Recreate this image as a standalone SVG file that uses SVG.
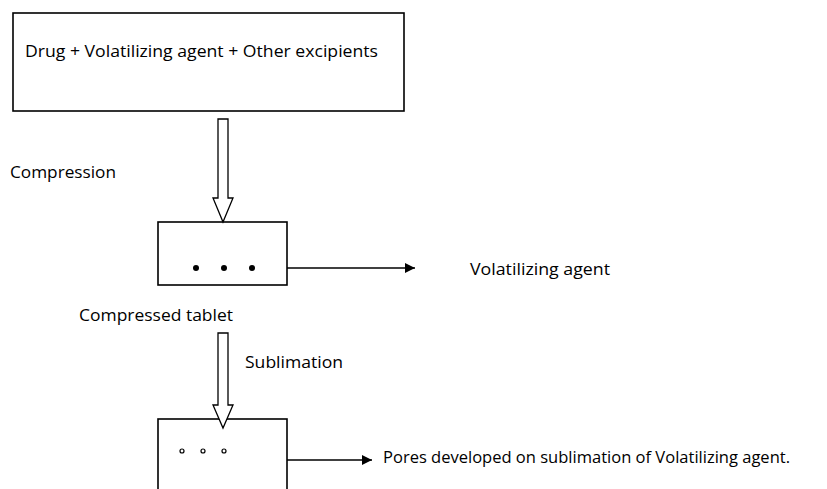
<svg xmlns="http://www.w3.org/2000/svg" width="827" height="489" viewBox="0 0 827 489">
<defs>
<style>
.box{fill:#fff;stroke:#000;stroke-width:1.6}
.hollow{fill:#fff;stroke:#000;stroke-width:1.3;stroke-linejoin:miter}
.line{stroke:#000;stroke-width:1.6;fill:none}
.t{font-family:"Open Sans","Liberation Sans",sans-serif;font-size:16px;fill:#000}
</style>
<marker id="ah" viewBox="0 0 10 10" refX="10" refY="5" markerWidth="11" markerHeight="10" markerUnits="userSpaceOnUse" orient="auto">
<path d="M0,0 L10,5 L0,10 z" fill="#000"/>
</marker>
</defs>
<rect width="827" height="489" fill="#fff"/>
<g id="mixture">
<rect class="box" x="13" y="13" width="391" height="98"/>
<text class="t" x="25" y="57" textLength="353" lengthAdjust="spacingAndGlyphs">Drug + Volatilizing agent + Other excipients</text>
</g>
<g id="compressed-tablet">
<rect class="box" x="158" y="222" width="129" height="63"/>
<circle cx="196" cy="268" r="3"/>
<circle cx="224" cy="268" r="3"/>
<circle cx="252" cy="268" r="3"/>
<text class="t" x="79" y="321" textLength="154" lengthAdjust="spacingAndGlyphs">Compressed tablet</text>
</g>
<g id="porous-tablet">
<rect class="box" x="158" y="419" width="129" height="80"/>
<circle cx="182" cy="451" r="2" fill="none" stroke="#000" stroke-width="1.2"/>
<circle cx="203" cy="451" r="2" fill="none" stroke="#000" stroke-width="1.2"/>
<circle cx="224" cy="451" r="2" fill="none" stroke="#000" stroke-width="1.2"/>
</g>
<g id="volatilizing-agent">
<text class="t" x="470" y="275" textLength="140" lengthAdjust="spacingAndGlyphs">Volatilizing agent</text>
</g>
<g id="pores">
<text class="t" x="383" y="463" textLength="407" lengthAdjust="spacingAndGlyphs">Pores developed on sublimation of Volatilizing agent.</text>
</g>
<g id="connectors">
<path class="hollow" d="M218,119 L228,119 L228,198 L233,198 L223,222 L213,198 L218,198 Z"/>
<text class="t" x="10" y="178" textLength="106" lengthAdjust="spacingAndGlyphs">Compression</text>
<path class="hollow" d="M218,333 L228,333 L228,405 L233,405 L223,428 L213,405 L218,405 Z"/>
<text class="t" x="245" y="368" textLength="98" lengthAdjust="spacingAndGlyphs">Sublimation</text>
<line class="line" x1="287" y1="268" x2="415" y2="268" marker-end="url(#ah)"/>
<line class="line" x1="287" y1="460" x2="372" y2="460" marker-end="url(#ah)"/>
</g>
</svg>
